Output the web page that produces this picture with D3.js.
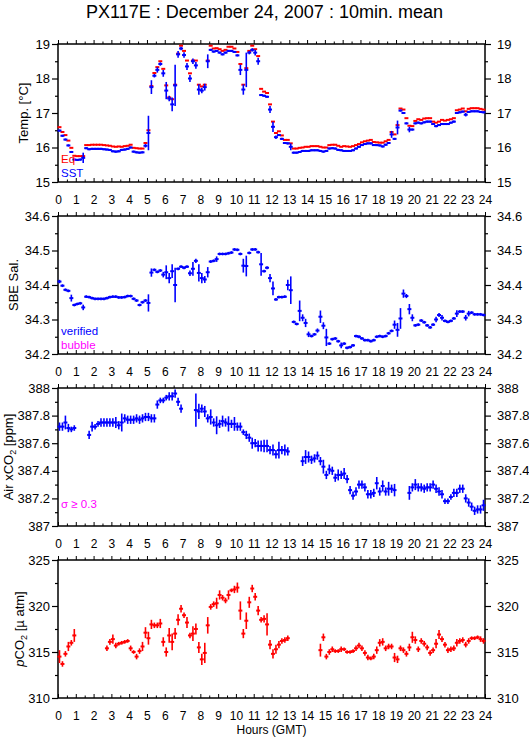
<!DOCTYPE html>
<html>
<head>
<meta charset="utf-8">
<script src="https://cdn.jsdelivr.net/npm/d3@7"></script>
<style>
  body { margin: 0; background: #fff; }
  svg { display: block; font-family: "Liberation Sans", Arial, Helvetica, sans-serif; }
</style>
</head>
<body>
<div id="chart"></div>
<script>
// 10-minute means, one value per slot (144 slots = 24 h). null = no data.
const slotHours = 1 / 6;

const sstValues = [
  16.49,16.34,16.23,16.06,15.87,15.65,15.64,15.65,15.70,15.98,15.95,15.96,
  15.96,15.96,15.96,15.95,15.94,15.93,15.89,15.88,15.89,15.93,15.94,15.96,
  16.00,15.88,15.86,15.85,15.86,16.05,16.42,17.75,18.08,18.25,18.42,18.15,
  17.65,17.42,17.25,17.80,18.70,18.87,18.68,18.35,18.00,18.50,18.38,17.68,
  17.65,17.75,18.50,18.83,18.78,18.80,18.75,18.70,18.75,18.80,18.80,18.77,
  18.67,18.25,17.68,18.25,18.75,18.83,18.75,18.50,17.52,17.50,17.47,17.10,
  16.60,16.30,16.36,16.25,16.13,16.12,16.02,15.85,15.85,15.87,15.90,15.90,
  15.90,15.92,15.92,15.92,15.90,15.88,15.90,15.97,15.98,15.97,15.93,15.92,
  15.90,15.90,15.90,15.92,15.97,16.02,16.07,16.10,16.12,16.12,16.07,16.07,
  16.06,16.03,16.08,16.13,16.38,16.25,16.58,17.07,17.00,16.70,16.52,16.52,
  16.70,16.72,16.70,16.73,16.75,16.75,16.68,16.62,16.65,16.68,16.68,16.68,
  16.72,16.75,17.00,17.02,17.04,16.95,17.03,17.05,17.05,17.05,17.03,17.02
];
const sstErr = [
  0.03,0.03,0.03,0.03,0.03,0.03,0.03,0.03,0.15,0.03,0.03,0.03,
  0.03,0.03,0.03,0.03,0.03,0.03,0.03,0.03,0.03,0.03,0.03,0.03,
  0.03,0.03,0.03,0.03,0.03,0.05,0.50,0.20,0.05,0.08,0.05,0.10,
  0.25,0.08,0.20,0.60,0.10,0.05,0.08,0.10,0.10,0.08,0.10,0.15,
  0.08,0.10,0.20,0.03,0.03,0.03,0.03,0.03,0.03,0.03,0.03,0.03,
  0.03,0.15,0.15,0.50,0.05,0.05,0.08,0.10,0.03,0.03,0.03,0.10,
  0.15,0.05,0.03,0.03,0.03,0.03,0.10,0.03,0.03,0.03,0.03,0.03,
  0.03,0.03,0.03,0.03,0.03,0.03,0.03,0.03,0.03,0.03,0.03,0.03,
  0.03,0.03,0.03,0.03,0.03,0.03,0.03,0.03,0.03,0.03,0.03,0.03,
  0.03,0.03,0.03,0.03,0.10,0.03,0.20,0.03,0.03,0.03,0.08,0.03,
  0.03,0.03,0.03,0.03,0.03,0.03,0.03,0.03,0.03,0.03,0.03,0.03,
  0.03,0.03,0.03,0.03,0.03,0.05,0.03,0.03,0.03,0.03,0.03,0.03
];
const eqValues = [
  16.59,16.45,16.36,16.20,15.99,15.76,15.75,15.75,15.75,16.07,16.07,16.08,
  16.08,16.08,16.08,16.07,16.06,16.05,16.03,16.02,16.03,16.02,16.04,16.05,
  16.08,15.99,15.98,15.97,15.97,16.13,16.50,17.78,18.16,18.33,18.50,18.28,
  17.80,17.45,17.40,17.82,18.72,18.95,18.80,18.52,18.15,18.52,18.52,17.82,
  17.77,17.82,18.52,18.95,18.87,18.88,18.85,18.80,18.83,18.92,18.92,18.87,
  18.77,18.42,17.82,18.30,18.80,18.95,18.85,18.65,17.70,17.62,17.58,17.25,
  16.75,16.42,16.47,16.35,16.22,16.22,16.12,15.97,15.97,15.99,16.00,16.02,
  16.02,16.04,16.04,16.04,16.02,16.00,16.00,16.07,16.08,16.08,16.05,16.02,
  16.04,16.03,16.02,16.04,16.07,16.10,16.15,16.18,16.20,16.22,16.16,16.15,
  16.14,16.14,16.18,16.22,16.45,16.38,16.65,17.13,17.10,16.85,16.63,16.62,
  16.77,16.82,16.80,16.84,16.85,16.85,16.75,16.72,16.75,16.80,16.78,16.80,
  16.82,16.85,17.08,17.10,17.13,17.05,17.12,17.14,17.14,17.14,17.12,17.10
];
const salValues = [
  34.410,34.398,34.386,34.383,34.362,34.342,34.345,34.347,34.335,34.366,34.365,34.362,
  34.360,34.360,34.360,34.360,34.362,34.365,34.366,34.366,34.364,34.364,34.365,34.368,
  34.368,34.360,34.355,34.342,34.350,34.355,34.348,34.436,34.444,34.438,34.442,34.430,
  34.437,34.420,34.440,34.400,34.447,34.453,34.450,34.453,34.434,34.447,34.470,34.435,
  34.420,34.416,34.437,34.468,34.470,34.475,34.490,34.490,34.490,34.492,34.494,34.503,
  34.502,34.490,34.456,34.455,34.493,34.503,34.503,34.495,34.460,34.440,34.450,34.420,
  34.390,34.358,34.365,34.365,34.366,34.400,34.385,34.293,34.287,34.325,34.305,34.290,
  34.257,34.252,34.257,34.268,34.308,34.282,34.248,34.230,34.243,34.245,34.237,34.225,
  34.230,34.218,34.220,34.225,34.252,34.250,34.245,34.240,34.240,34.237,34.240,34.250,
  34.252,34.250,34.252,34.260,34.267,34.285,34.270,34.303,34.375,34.368,34.330,34.305,
  34.283,34.285,34.297,34.292,34.283,34.277,34.285,34.300,34.313,34.305,34.296,34.293,
  34.296,34.303,34.317,34.323,34.323,34.305,34.317,34.320,34.315,34.315,34.315,34.313
];
const salErr = [
  0.005,0.004,0.004,0.004,0.010,0.004,0.004,0.004,0.008,0.004,0.004,0.004,
  0.004,0.004,0.004,0.004,0.004,0.004,0.004,0.004,0.004,0.004,0.004,0.004,
  0.004,0.004,0.004,0.004,0.004,0.004,0.025,0.012,0.004,0.004,0.004,0.008,
  0.020,0.015,0.020,0.050,0.004,0.004,0.004,0.004,0.008,0.020,0.006,0.025,
  0.015,0.010,0.015,0.004,0.004,0.008,0.004,0.004,0.004,0.004,0.004,0.004,
  0.004,0.004,0.020,0.030,0.004,0.004,0.004,0.004,0.033,0.004,0.004,0.012,
  0.020,0.004,0.004,0.004,0.004,0.015,0.040,0.004,0.004,0.030,0.010,0.012,
  0.008,0.004,0.004,0.006,0.018,0.010,0.025,0.004,0.004,0.004,0.004,0.008,
  0.004,0.004,0.004,0.004,0.004,0.004,0.004,0.004,0.004,0.004,0.004,0.004,
  0.004,0.004,0.004,0.004,0.004,0.012,0.020,0.030,0.012,0.006,0.015,0.010,
  0.004,0.004,0.004,0.004,0.004,0.004,0.004,0.008,0.006,0.008,0.004,0.004,
  0.004,0.004,0.010,0.004,0.004,0.008,0.008,0.004,0.004,0.004,0.004,0.004
];
const xco2Values = [
  387.72,387.72,387.75,387.71,387.70,387.71,null,null,null,null,387.66,387.72,
  387.72,387.74,387.75,387.75,387.75,387.75,387.75,387.75,387.73,387.75,387.78,387.77,
  387.77,387.77,387.78,387.77,387.78,387.79,387.79,387.78,387.78,387.88,387.91,387.91,
  387.93,387.94,387.94,387.96,387.90,387.85,null,null,null,null,387.84,387.83,
  387.85,387.83,387.78,387.79,387.75,387.73,387.74,387.76,387.75,387.74,387.74,387.74,
  387.72,387.72,387.68,387.66,387.64,387.60,387.60,387.58,387.58,387.58,387.58,387.55,
  387.55,387.52,387.55,387.55,387.55,387.54,null,null,null,null,387.47,387.50,
  387.50,387.48,387.49,387.51,387.47,387.43,387.37,387.41,387.40,387.35,387.37,387.37,
  387.38,387.34,387.26,387.22,387.25,387.30,387.30,387.28,387.23,387.23,387.24,387.31,
  387.25,387.29,387.25,387.27,387.27,387.26,null,null,null,null,387.24,387.28,
  387.30,387.28,387.28,387.27,387.28,387.28,387.30,387.27,387.25,387.23,387.18,387.18,
  387.21,387.24,387.24,387.27,387.27,387.20,387.17,387.14,387.11,387.12,387.12,387.15
];
const xco2Err = [
  0.03,0.03,0.05,0.03,0.02,0.02,0,0,0,0,0.03,0.035,
  0.02,0.02,0.03,0.03,0.03,0.03,0.03,0.04,0.03,0.065,0.03,0.03,
  0.03,0.03,0.03,0.03,0.03,0.03,0.03,0.03,0.03,0.03,0.02,0.02,
  0.02,0.03,0.03,0.03,0.03,0.03,0,0,0,0,0.12,0.055,
  0.03,0.04,0.03,0.055,0.03,0.065,0.03,0.04,0.03,0.055,0.03,0.05,
  0.03,0.03,0.02,0.03,0.03,0.04,0.03,0.04,0.04,0.045,0.045,0.03,
  0.04,0.03,0.06,0.03,0.04,0.03,0,0,0,0,0.035,0.05,
  0.04,0.03,0.03,0.03,0.03,0.05,0.03,0.035,0.03,0.03,0.04,0.03,
  0.04,0.03,0.03,0.03,0.03,0.03,0.03,0.03,0.03,0.03,0.03,0.045,
  0.03,0.04,0.03,0.05,0.03,0.045,0,0,0,0,0.05,0.03,
  0.04,0.03,0.03,0.03,0.03,0.03,0.03,0.03,0.03,0.03,0.02,0.02,
  0.02,0.03,0.03,0.03,0.03,0.03,0.03,0.03,0.03,0.03,0.03,0.04
];
const pco2Values = [
  314.5,313.7,314.8,315.6,316.0,316.8,null,null,null,null,null,null,
  null,null,null,null,315.4,316.1,316.4,315.7,315.9,316.0,316.1,316.2,
  315.4,315.0,314.5,315.1,315.6,317.1,316.5,318.0,317.9,317.9,318.1,316.1,
  315.0,316.8,316.1,317.0,318.5,319.7,319.0,318.2,316.8,317.0,317.5,315.5,
  314.2,314.9,317.9,319.9,320.2,320.3,321.2,320.9,320.6,321.2,321.7,321.8,
  322.0,319.5,317.0,318.4,320.4,321.9,321.0,319.5,318.5,318.6,318.0,315.8,
  314.8,315.3,315.8,316.2,316.3,316.5,null,null,null,null,null,null,
  null,null,null,null,315.2,316.6,314.5,315.0,315.3,315.1,315.1,315.3,
  315.3,315.0,315.0,315.1,315.4,315.7,315.4,314.9,314.4,314.3,314.5,315.2,
  316.0,316.1,315.4,315.6,315.6,314.4,314.2,315.4,315.2,314.8,315.5,316.6,
  316.3,315.3,316.2,315.9,315.5,314.9,315.2,315.9,316.9,316.4,315.8,315.2,
  315.3,315.4,316.0,316.2,316.3,315.8,316.2,316.5,316.5,316.6,316.4,316.2
];
const pco2Err = [
  0.7,0.3,0.3,0.5,0.3,0.7,0,0,0,0,0,0,
  0,0,0,0,0.3,0.3,0.5,0.3,0.2,0.2,0.2,0.2,
  0.3,0.2,0.3,0.3,0.5,0.6,0.7,0.5,0.3,0.3,0.5,0.5,
  0.5,0.8,0.9,0.6,0.6,0.4,0.3,0.6,0.3,0.8,0.6,0.6,
  0.6,1.1,0.9,0.3,0.3,0.6,0.5,0.3,0.3,0.5,0.2,0.4,
  0.55,1.0,0.5,0.9,0.6,0.4,0.4,0.5,0.3,0.4,1.2,0.5,
  0.5,0.5,0.4,0.3,0.3,0.3,0,0,0,0,0,0,
  0,0,0,0,0.7,0.4,0.3,0.3,0.3,0.2,0.2,0.3,
  0.2,0.2,0.2,0.2,0.3,0.3,0.3,0.3,0.3,0.2,0.3,0.4,
  0.4,0.4,0.3,0.3,0.3,0.5,0.4,0.3,0.3,0.3,0.4,0.6,
  0.4,0.3,0.3,0.3,0.3,0.3,0.3,0.5,0.5,0.3,0.3,0.3,
  0.3,0.3,0.4,0.3,0.3,0.3,0.3,0.2,0.2,0.2,0.3,0.3
];

// Tick labels
const hourTicks = d3.range(0, 25);
const hourMinorTicks = d3.range(0.5, 24, 1);
const tempTicks = [15, 16, 17, 18, 19];
const salTicks = [34.2, 34.3, 34.4, 34.5, 34.6];
const xco2Ticks = [387, 387.2, 387.4, 387.6, 387.8, 388];
const pco2Ticks = [310, 315, 320, 325];

const width = 529, height = 739;
const left = 58, right = 485;
const panelH = 138;
const blue = '#0000ff', red = '#ff0000', magenta = '#ff00ff';

const svg = d3.select('#chart').append('svg')
  .attr('width', width).attr('height', height);

const x = d3.scaleLinear().domain([0, 24]).range([left, right]);

svg.append('text')
  .attr('x', width / 2).attr('y', 18)
  .attr('text-anchor', 'middle')
  .attr('font-size', 18)
  .text('PX117E : December 24, 2007 : 10min. mean');

// label parts: [text, kind] where kind is 'sub' (subscript) or 'ital'
const panels = [
  {top: 44, domain: [15, 19], ticks: tempTicks, minor: d3.range(15.5, 19, 1), fmt: d3.format('d'),
   label: [['Temp. [°C]']], labelX: 28,
   series: [
     {values: eqValues, err: null, color: red},
     {values: sstValues, err: sstErr, color: blue}
   ]},
  {top: 216, domain: [34.2, 34.6], ticks: salTicks, minor: [34.25, 34.35, 34.45, 34.55], fmt: d3.format('.1f'),
   label: [['SBE Sal.']], labelX: 18,
   series: [{values: salValues, err: salErr, color: blue}]},
  {top: 388, domain: [387, 388], ticks: xco2Ticks, minor: [387.1, 387.3, 387.5, 387.7, 387.9], fmt: d => d3.format('.1f')(d).replace(/\.0$/, ''),
   label: [['Air xCO'], ['2', 'sub'], [' [ppm]']], labelX: 13,
   series: [{values: xco2Values, err: xco2Err, color: blue}]},
  {top: 560, domain: [310, 325], ticks: pco2Ticks, minor: [312.5, 317.5, 322.5], fmt: d3.format('d'),
   label: [['p', 'ital'], ['CO'], ['2', 'sub'], [' [µ atm]']], labelX: 24,
   series: [{values: pco2Values, err: pco2Err, color: red}]}
];

panels.forEach(p => {
  const y = d3.scaleLinear().domain(p.domain).range([p.top + panelH, p.top]);
  const g = svg.append('g');
  const bottom = p.top + panelH;

  // y axes, left and right, ticks outward
  const yAxes = [
    [d3.axisLeft, left, 6, 2],
    [d3.axisRight, right, 6, 6]
  ];
  yAxes.forEach(([axisFn, xPos, size, pad]) => {
    g.append('g').attr('transform', `translate(${xPos},0)`)
      .call(axisFn(y).tickValues(p.ticks).tickSize(size).tickPadding(pad).tickFormat(p.fmt))
      .call(a => a.select('.domain').remove())
      .call(a => a.selectAll('text').attr('font-size', 13).attr('font-family', null).attr('fill', '#000'))
      .call(a => a.selectAll('line').attr('stroke-width', 1.2));
    g.append('g').attr('transform', `translate(${xPos},0)`)
      .call(axisFn(y).tickValues(p.minor).tickSize(3).tickFormat(''))
      .call(a => a.select('.domain').remove())
      .call(a => a.selectAll('line').attr('stroke-width', 1.2));
  });

  // x axes: top ticks outward (up), bottom ticks inward (up) with hour labels
  g.append('g').attr('transform', `translate(0,${p.top})`)
    .call(d3.axisTop(x).tickValues(hourTicks).tickSize(4).tickFormat(''))
    .call(a => a.select('.domain').remove());
  g.append('g').attr('transform', `translate(0,${p.top})`)
    .call(d3.axisTop(x).tickValues(hourMinorTicks).tickSize(2.5).tickFormat(''))
    .call(a => a.select('.domain').remove());
  g.append('g').attr('transform', `translate(0,${bottom})`)
    .call(d3.axisBottom(x).tickValues(hourTicks).tickSizeInner(-4).tickSizeOuter(0).tickPadding(13).tickFormat(d3.format('d')))
    .call(a => a.select('.domain').remove())
    .call(a => a.selectAll('text').attr('font-size', 12).attr('font-family', null).attr('fill', '#000'));
  g.append('g').attr('transform', `translate(0,${bottom})`)
    .call(d3.axisBottom(x).tickValues(hourMinorTicks).tickSize(-2.5).tickFormat(''))
    .call(a => a.select('.domain').remove());
  g.selectAll('line').attr('stroke', '#000');

  // frame
  g.append('rect')
    .attr('x', left).attr('y', p.top)
    .attr('width', right - left).attr('height', panelH)
    .attr('fill', 'none').attr('stroke', '#000').attr('stroke-width', 1.5);

  // y label, built from tspans so the subscript 2 drops and returns
  const lab = g.append('text')
    .attr('transform', `translate(${p.labelX},${p.top + panelH / 2}) rotate(-90)`)
    .attr('text-anchor', 'middle')
    .attr('font-size', 13);
  let prevSub = false;
  p.label.forEach(([t, kind]) => {
    const ts = lab.append('tspan').text(t);
    if (kind === 'sub') ts.attr('font-size', 9).attr('dy', 3);
    else if (prevSub) ts.attr('dy', -3);
    if (kind === 'ital') ts.attr('font-style', 'italic');
    prevSub = kind === 'sub';
  });

  // data marks: 10-minute horizontal bar + vertical sigma bar
  p.series.forEach(s => {
    const pts = s.values.map((v, i) => ({i, v, e: s.err ? s.err[i] : 0})).filter(d => d.v != null);
    const mg = g.append('g').attr('stroke', s.color).attr('fill', 'none');
    mg.selectAll('line.h').data(pts).join('line')
      .attr('class', 'h')
      .attr('x1', d => x(d.i * slotHours) - 0.5)
      .attr('x2', d => x((d.i + 1) * slotHours) + 0.5)
      .attr('y1', d => y(d.v)).attr('y2', d => y(d.v))
      .attr('stroke-width', 2);
    if (s.err) {
      mg.selectAll('line.v').data(pts.filter(d => d.e > 0)).join('line')
        .attr('class', 'v')
        .attr('x1', d => x((d.i + 0.5) * slotHours))
        .attr('x2', d => x((d.i + 0.5) * slotHours))
        .attr('y1', d => y(Math.min(p.domain[1], d.v + d.e)))
        .attr('y2', d => y(Math.max(p.domain[0], d.v - d.e)))
        .attr('stroke-width', 1.6);
    }
  });
});

// in-panel annotations
const notes = [
  {text: 'Eq', x: 61, y: 163, color: red},
  {text: 'SST', x: 61, y: 177, color: blue},
  {text: 'verified', x: 61, y: 335, color: blue},
  {text: 'bubble', x: 61, y: 349, color: magenta},
  {text: 'σ ≥ 0.3', x: 61, y: 508, color: magenta}
];
svg.selectAll('text.note').data(notes).join('text')
  .attr('class', 'note')
  .attr('x', d => d.x).attr('y', d => d.y)
  .attr('fill', d => d.color)
  .attr('font-size', 11.5)
  .text(d => d.text);

svg.append('text')
  .attr('x', (left + right) / 2).attr('y', 734)
  .attr('text-anchor', 'middle')
  .attr('font-size', 12)
  .text('Hours (GMT)');
</script>
</body>
</html>
